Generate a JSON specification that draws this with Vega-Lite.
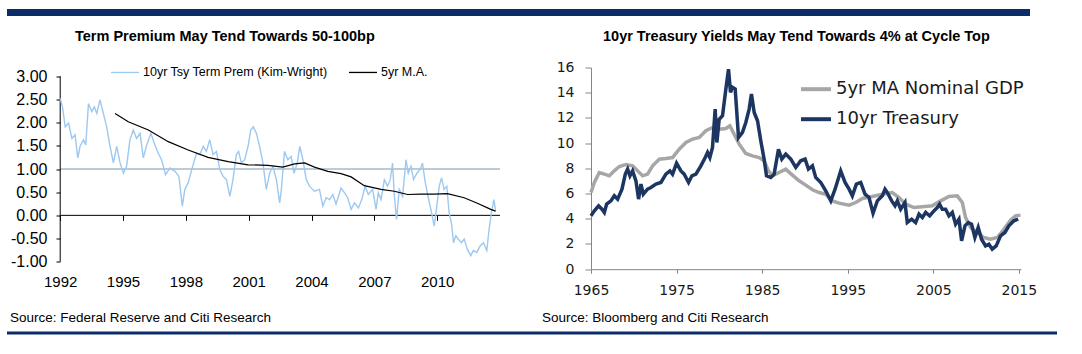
{
  "$schema": "https://vega.github.io/schema/vega-lite/v6.json",
  "padding": {"left": 7, "top": 9, "right": 0, "bottom": 0},
  "background": "white",
  "config": {
    "view": {"stroke": null},
    "font": "Liberation Sans",
    "axis": {"grid": false, "title": null, "labelOverlap": false, "labelFlush": false}
  },
  "datasets": {
    "tp": [
      {"year":1992.00,"value":2.52},{"year":1992.11,"value":2.34},{"year":1992.24,"value":1.91},{"year":1992.40,"value":1.99},{"year":1992.56,"value":1.66},{"year":1992.71,"value":1.74},{"year":1992.84,"value":1.24},{"year":1992.95,"value":1.49},{"year":1993.11,"value":1.63},{"year":1993.22,"value":1.52},{"year":1993.35,"value":2.41},{"year":1993.51,"value":2.24},{"year":1993.63,"value":2.34},{"year":1993.75,"value":2.20},{"year":1993.90,"value":2.49},{"year":1994.06,"value":2.20},{"year":1994.22,"value":1.91},{"year":1994.38,"value":1.49},{"year":1994.54,"value":1.13},{"year":1994.70,"value":1.49},{"year":1994.86,"value":1.13},{"year":1995.02,"value":0.91},{"year":1995.17,"value":1.06},{"year":1995.33,"value":1.63},{"year":1995.49,"value":1.84},{"year":1995.65,"value":1.66},{"year":1995.81,"value":1.77},{"year":1995.97,"value":1.24},{"year":1996.13,"value":1.52},{"year":1996.33,"value":1.77},{"year":1996.49,"value":1.56},{"year":1996.68,"value":1.34},{"year":1996.84,"value":1.20},{"year":1997.03,"value":0.88},{"year":1997.24,"value":1.02},{"year":1997.48,"value":0.95},{"year":1997.67,"value":0.84},{"year":1997.83,"value":0.20},{"year":1997.95,"value":0.56},{"year":1998.11,"value":0.70},{"year":1998.30,"value":1.02},{"year":1998.51,"value":1.34},{"year":1998.67,"value":1.31},{"year":1998.83,"value":1.49},{"year":1998.98,"value":1.38},{"year":1999.14,"value":1.63},{"year":1999.30,"value":1.31},{"year":1999.46,"value":1.38},{"year":1999.62,"value":0.99},{"year":1999.78,"value":0.84},{"year":1999.94,"value":0.77},{"year":2000.10,"value":0.41},{"year":2000.25,"value":0.77},{"year":2000.41,"value":1.31},{"year":2000.52,"value":1.38},{"year":2000.65,"value":1.13},{"year":2000.81,"value":1.20},{"year":2000.97,"value":1.49},{"year":2001.10,"value":1.84},{"year":2001.22,"value":1.91},{"year":2001.37,"value":1.77},{"year":2001.52,"value":1.49},{"year":2001.68,"value":1.13},{"year":2001.84,"value":0.56},{"year":2002.00,"value":0.91},{"year":2002.16,"value":1.06},{"year":2002.32,"value":0.77},{"year":2002.48,"value":0.27},{"year":2002.56,"value":0.56},{"year":2002.71,"value":1.38},{"year":2002.87,"value":1.20},{"year":2003.03,"value":1.27},{"year":2003.16,"value":0.91},{"year":2003.32,"value":1.13},{"year":2003.44,"value":1.49},{"year":2003.59,"value":1.20},{"year":2003.75,"value":0.77},{"year":2003.90,"value":0.63},{"year":2004.14,"value":0.52},{"year":2004.38,"value":0.56},{"year":2004.54,"value":0.20},{"year":2004.70,"value":0.38},{"year":2004.86,"value":0.34},{"year":2005.02,"value":0.45},{"year":2005.17,"value":0.24},{"year":2005.41,"value":0.59},{"year":2005.57,"value":0.49},{"year":2005.73,"value":0.38},{"year":2005.89,"value":0.13},{"year":2006.05,"value":0.27},{"year":2006.24,"value":0.16},{"year":2006.40,"value":0.34},{"year":2006.56,"value":0.63},{"year":2006.71,"value":0.45},{"year":2006.92,"value":0.56},{"year":2007.08,"value":0.13},{"year":2007.19,"value":0.49},{"year":2007.32,"value":0.34},{"year":2007.48,"value":0.77},{"year":2007.63,"value":0.63},{"year":2007.76,"value":0.77},{"year":2007.87,"value":1.13},{"year":2007.95,"value":0.45},{"year":2008.06,"value":-0.09},{"year":2008.19,"value":0.56},{"year":2008.35,"value":0.41},{"year":2008.51,"value":1.20},{"year":2008.62,"value":0.91},{"year":2008.75,"value":1.06},{"year":2008.87,"value":0.77},{"year":2009.03,"value":0.91},{"year":2009.19,"value":0.99},{"year":2009.30,"value":1.13},{"year":2009.41,"value":0.77},{"year":2009.54,"value":0.45},{"year":2009.70,"value":0.13},{"year":2009.86,"value":-0.23},{"year":2009.98,"value":0.20},{"year":2010.10,"value":0.63},{"year":2010.21,"value":0.81},{"year":2010.33,"value":0.56},{"year":2010.46,"value":0.63},{"year":2010.57,"value":0.06},{"year":2010.68,"value":-0.16},{"year":2010.78,"value":-0.59},{"year":2010.89,"value":-0.44},{"year":2011.00,"value":-0.51},{"year":2011.16,"value":-0.59},{"year":2011.29,"value":-0.51},{"year":2011.44,"value":-0.73},{"year":2011.60,"value":-0.87},{"year":2011.73,"value":-0.76},{"year":2011.89,"value":-0.80},{"year":2012.05,"value":-0.66},{"year":2012.21,"value":-0.59},{"year":2012.37,"value":-0.76},{"year":2012.48,"value":-0.30},{"year":2012.59,"value":0.06},{"year":2012.71,"value":0.34},{"year":2012.79,"value":0.09}
    ],
    "ma": [
      {"year":1994.62,"value":2.20},{"year":1995.25,"value":2.02},{"year":1996.21,"value":1.84},{"year":1997.16,"value":1.59},{"year":1998.11,"value":1.41},{"year":1999.06,"value":1.25},{"year":2000.02,"value":1.16},{"year":2000.97,"value":1.09},{"year":2001.92,"value":1.08},{"year":2002.63,"value":1.04},{"year":2003.19,"value":1.11},{"year":2003.67,"value":1.13},{"year":2004.14,"value":1.04},{"year":2004.78,"value":0.95},{"year":2005.41,"value":0.90},{"year":2005.89,"value":0.83},{"year":2006.52,"value":0.64},{"year":2007.32,"value":0.56},{"year":2007.95,"value":0.52},{"year":2008.59,"value":0.45},{"year":2009.22,"value":0.46},{"year":2009.86,"value":0.46},{"year":2010.49,"value":0.47},{"year":2011.29,"value":0.38},{"year":2011.92,"value":0.26},{"year":2012.56,"value":0.13},{"year":2012.79,"value":0.09}
    ],
    "gdp": [
      {"year":1965.00,"value":6.08},{"year":1965.39,"value":6.88},{"year":1965.97,"value":7.67},{"year":1966.56,"value":7.54},{"year":1967.14,"value":7.41},{"year":1967.72,"value":7.80},{"year":1968.31,"value":8.15},{"year":1969.09,"value":8.31},{"year":1969.86,"value":8.20},{"year":1970.45,"value":7.80},{"year":1971.03,"value":7.41},{"year":1971.61,"value":7.54},{"year":1972.20,"value":8.20},{"year":1972.98,"value":8.73},{"year":1973.75,"value":8.78},{"year":1974.53,"value":8.86},{"year":1975.31,"value":9.52},{"year":1976.09,"value":10.05},{"year":1976.87,"value":10.32},{"year":1977.65,"value":10.45},{"year":1978.42,"value":10.98},{"year":1979.20,"value":11.24},{"year":1979.98,"value":11.11},{"year":1980.76,"value":11.16},{"year":1981.23,"value":11.38},{"year":1981.73,"value":10.71},{"year":1982.32,"value":9.92},{"year":1983.09,"value":9.18},{"year":1983.87,"value":8.99},{"year":1984.65,"value":8.86},{"year":1985.23,"value":8.60},{"year":1985.74,"value":7.80},{"year":1986.21,"value":7.41},{"year":1986.98,"value":7.67},{"year":1987.76,"value":7.94},{"year":1988.54,"value":7.46},{"year":1989.32,"value":7.01},{"year":1990.10,"value":6.67},{"year":1990.88,"value":6.30},{"year":1991.65,"value":6.08},{"year":1992.43,"value":5.95},{"year":1993.21,"value":5.42},{"year":1993.99,"value":5.24},{"year":1995.16,"value":5.08},{"year":1995.93,"value":5.29},{"year":1996.71,"value":5.61},{"year":1997.88,"value":5.77},{"year":1999.05,"value":5.95},{"year":2000.21,"value":6.08},{"year":2000.99,"value":5.69},{"year":2001.77,"value":5.16},{"year":2002.74,"value":4.89},{"year":2003.72,"value":4.95},{"year":2004.88,"value":5.03},{"year":2005.86,"value":5.42},{"year":2006.83,"value":5.77},{"year":2007.80,"value":5.82},{"year":2008.39,"value":5.29},{"year":2008.77,"value":4.10},{"year":2009.36,"value":3.31},{"year":2010.14,"value":2.91},{"year":2010.91,"value":2.51},{"year":2011.69,"value":2.38},{"year":2012.47,"value":2.51},{"year":2013.25,"value":3.17},{"year":2014.03,"value":3.89},{"year":2014.61,"value":4.23},{"year":2015.19,"value":4.29}
    ],
    "ust": [
      {"year":1965.00,"value":4.23},{"year":1965.39,"value":4.63},{"year":1965.89,"value":5.03},{"year":1966.28,"value":4.76},{"year":1966.56,"value":4.50},{"year":1966.83,"value":5.16},{"year":1967.33,"value":5.42},{"year":1967.72,"value":5.82},{"year":1968.11,"value":5.56},{"year":1968.62,"value":6.35},{"year":1969.01,"value":7.54},{"year":1969.28,"value":7.94},{"year":1969.55,"value":7.41},{"year":1969.86,"value":7.80},{"year":1970.25,"value":7.01},{"year":1970.56,"value":5.56},{"year":1970.84,"value":6.75},{"year":1971.11,"value":5.95},{"year":1971.61,"value":6.35},{"year":1972.00,"value":6.48},{"year":1972.59,"value":6.75},{"year":1973.17,"value":6.88},{"year":1973.75,"value":7.54},{"year":1974.22,"value":7.80},{"year":1974.53,"value":7.54},{"year":1975.00,"value":8.41},{"year":1975.51,"value":7.80},{"year":1975.89,"value":7.54},{"year":1976.40,"value":6.88},{"year":1976.79,"value":7.41},{"year":1977.26,"value":7.54},{"year":1977.84,"value":8.20},{"year":1978.35,"value":8.86},{"year":1978.62,"value":9.26},{"year":1978.89,"value":8.86},{"year":1979.20,"value":9.66},{"year":1979.51,"value":12.70},{"year":1979.71,"value":10.05},{"year":1979.98,"value":11.90},{"year":1980.37,"value":12.17},{"year":1980.76,"value":14.29},{"year":1981.07,"value":15.87},{"year":1981.30,"value":14.02},{"year":1981.54,"value":14.42},{"year":1981.85,"value":14.29},{"year":1982.24,"value":10.45},{"year":1982.70,"value":10.85},{"year":1983.09,"value":11.64},{"year":1983.48,"value":12.70},{"year":1983.75,"value":13.89},{"year":1984.07,"value":12.43},{"year":1984.46,"value":11.77},{"year":1984.84,"value":10.19},{"year":1985.23,"value":8.73},{"year":1985.51,"value":7.41},{"year":1986.01,"value":7.28},{"year":1986.40,"value":7.54},{"year":1986.91,"value":9.52},{"year":1987.30,"value":8.73},{"year":1987.76,"value":9.13},{"year":1988.35,"value":8.73},{"year":1988.93,"value":8.07},{"year":1989.51,"value":8.60},{"year":1990.02,"value":8.73},{"year":1990.41,"value":7.94},{"year":1990.88,"value":8.20},{"year":1991.26,"value":7.28},{"year":1991.85,"value":6.88},{"year":1992.43,"value":6.22},{"year":1993.02,"value":5.42},{"year":1993.52,"value":6.35},{"year":1994.18,"value":7.80},{"year":1994.69,"value":6.88},{"year":1995.16,"value":6.35},{"year":1995.54,"value":5.82},{"year":1996.01,"value":6.75},{"year":1996.52,"value":6.88},{"year":1997.02,"value":5.95},{"year":1997.49,"value":5.69},{"year":1997.96,"value":4.44},{"year":1998.46,"value":5.42},{"year":1999.05,"value":5.82},{"year":1999.36,"value":6.35},{"year":1999.63,"value":6.08},{"year":2000.14,"value":5.42},{"year":2000.53,"value":5.03},{"year":2000.80,"value":5.42},{"year":2001.19,"value":4.76},{"year":2001.69,"value":5.29},{"year":2001.96,"value":3.70},{"year":2002.47,"value":3.97},{"year":2002.94,"value":3.70},{"year":2003.33,"value":4.37},{"year":2003.72,"value":4.10},{"year":2004.11,"value":4.50},{"year":2004.57,"value":4.23},{"year":2005.08,"value":4.63},{"year":2005.47,"value":4.89},{"year":2005.74,"value":5.16},{"year":2006.05,"value":4.76},{"year":2006.44,"value":4.76},{"year":2006.83,"value":4.23},{"year":2007.22,"value":4.50},{"year":2007.61,"value":3.57},{"year":2008.00,"value":3.97},{"year":2008.31,"value":2.25},{"year":2008.70,"value":3.44},{"year":2009.09,"value":3.70},{"year":2009.47,"value":3.57},{"year":2009.86,"value":2.51},{"year":2010.25,"value":3.31},{"year":2010.64,"value":2.38},{"year":2011.11,"value":1.85},{"year":2011.50,"value":1.98},{"year":2011.89,"value":1.59},{"year":2012.35,"value":1.85},{"year":2012.86,"value":2.65},{"year":2013.37,"value":2.91},{"year":2013.83,"value":3.44},{"year":2014.42,"value":3.84},{"year":2014.92,"value":3.97}
    ]
  },
  "columns": 1,
  "align": "none",
  "spacing": 12.5,
  "concat": [
    {
      "width": 1023, "height": 7,
      "view": {"fill": "#0b2b69", "stroke": null},
      "data": {"values": []},
      "mark": {"type": "point", "opacity": 0}
    },
    {
      "columns": 1,
      "align": "none",
      "spacing": 12,
      "concat": [
        {
          "spacing": 55,
          "resolve": {"scale": {"color": "independent"}, "legend": {"color": "independent"}},
          "hconcat": [
            {
              "width": 493, "height": 194.2,
              "title": {"text": "Term Premium May Tend Towards 50-100bp", "anchor": "start", "frame": "group", "dx": 68, "offset": 2, "baseline": "alphabetic", "font": "Liberation Sans", "fontSize": 14.5, "fontWeight": "bold", "color": "#000000"},
              "layer": [
                {
                  "data": {"values": [{}]},
                  "mark": {"type": "rule", "color": "#7d98ad", "strokeWidth": 1.2},
                  "encoding": {"x": {"datum": 1992, "type": "quantitative"}, "x2": {"datum": 2013}, "y": {"datum": 1, "type": "quantitative"}}
                },
                {
                  "data": {"values": [{}]},
                  "mark": {"type": "rule", "color": "#000000", "strokeWidth": 1},
                  "encoding": {"x": {"datum": 1992, "type": "quantitative"}, "x2": {"datum": 2013}, "y": {"datum": 0, "type": "quantitative"}}
                },
                {
                  "data": {"values": [{}]},
                  "mark": {"type": "rule", "color": "#000000", "strokeWidth": 1},
                  "encoding": {"x": {"datum": 1992, "type": "quantitative"}, "y": {"datum": -1, "type": "quantitative"}, "y2": {"datum": 3}}
                },
                {
                  "data": {"name": "tp"},
                  "mark": {"type": "line", "strokeWidth": 1.4},
                  "encoding": {
                    "x": {"field": "year", "type": "quantitative",
                      "scale": {"domain": [1989.46, 2013], "nice": false, "zero": false},
                      "axis": {"values": [1992, 1995, 1998, 2001, 2004, 2007, 2010], "format": "d", "offset": -46.3, "domain": false, "ticks": true, "tickSize": 5, "tickColor": "#000000", "labelPadding": 54, "labelFontSize": 15, "labelColor": "#000000", "labelFont": "Liberation Sans", "labelOverlap": false, "labelFlush": false}},
                    "y": {"field": "value", "type": "quantitative",
                      "scale": {"domain": [-1, 3.19], "nice": false, "zero": false},
                      "axis": {"values": [-1, -0.5, 0, 0.5, 1, 1.5, 2, 2.5, 3], "tickCount": 9, "labelExpr": "datum.value < 0 ? '-' + format(-datum.value, '.2f') : format(datum.value, '.2f')", "domain": false, "offset": -53, "tickColor": "#000000", "tickSize": 4, "labelPadding": 9, "labelFontSize": 16, "labelColor": "#000000", "labelFont": "Liberation Sans", "minExtent": 0, "labelOverlap": false}},
                    "color": {"datum": "10yr Tsy Term Prem (Kim-Wright)",
                      "scale": {"domain": ["10yr Tsy Term Prem (Kim-Wright)", "5yr M.A."], "range": ["#9dc8f0", "#000000"]},
                      "legend": {"orient": "none", "legendX": 103, "legendY": -10.3, "direction": "horizontal", "title": null, "symbolType": "stroke", "symbolSize": 784, "symbolStrokeWidth": 1.3, "labelFontSize": 12.5, "labelFont": "Liberation Sans", "labelColor": "#000000", "labelOffset": 3, "columnPadding": 18, "padding": 0, "labelLimit": 400}}
                  }
                },
                {
                  "data": {"name": "ma"},
                  "mark": {"type": "line", "strokeWidth": 1.2},
                  "encoding": {
                    "x": {"field": "year", "type": "quantitative"},
                    "y": {"field": "value", "type": "quantitative",
                      "axis": {"values": [-1, -0.5, 0, 0.5, 1, 1.5, 2, 2.5, 3], "tickCount": 9, "labelOverlap": false}},
                    "color": {"datum": "5yr M.A."}
                  }
                }
              ]
            },
            {
              "width": 430, "height": 201.7,
              "title": {"text": "10yr Treasury Yields May Tend Towards 4% at Cycle Top", "anchor": "start", "frame": "group", "dx": 12, "offset": 5, "baseline": "alphabetic", "font": "Liberation Sans", "fontSize": 14.5, "fontWeight": "bold", "color": "#000000"},
              "layer": [
                {
                  "data": {"name": "gdp"},
                  "mark": {"type": "line", "strokeWidth": 3.5},
                  "encoding": {
                    "x": {"field": "year", "type": "quantitative",
                      "scale": {"domain": [1965, 2015.25], "nice": false, "zero": false},
                      "axis": {"values": [1965, 1975, 1985, 1995, 2005, 2015], "format": "d", "domainColor": "#868686", "tickColor": "#868686", "tickSize": 4, "labelPadding": 10.5, "labelFontSize": 14, "labelFont": "DejaVu Sans", "labelColor": "#1a1a1a", "labelFlush": false}},
                    "y": {"field": "value", "type": "quantitative",
                      "scale": {"domain": [0, 16], "nice": false},
                      "axis": {"values": [0, 2, 4, 6, 8, 10, 12, 14, 16], "tickCount": 9, "format": "d", "domainColor": "#868686", "tickColor": "#868686", "tickSize": 6, "labelPadding": 11, "labelFontSize": 14, "labelFont": "DejaVu Sans", "labelColor": "#1a1a1a", "labelOverlap": false}},
                    "color": {"datum": "5yr MA Nominal GDP",
                      "scale": {"domain": ["5yr MA Nominal GDP", "10yr Treasury"], "range": ["#a6a6a6", "#1c3661"]},
                      "legend": {"orient": "none", "legendX": 208, "legendY": 4.7, "direction": "vertical", "title": null, "symbolType": "stroke", "symbolSize": 900, "symbolStrokeWidth": 4, "labelFontSize": 18, "labelFont": "DejaVu Sans", "labelColor": "#1a1a1a", "labelOffset": 3, "rowPadding": 4, "padding": 0, "labelLimit": 400}}
                  }
                },
                {
                  "data": {"name": "ust"},
                  "mark": {"type": "line", "strokeWidth": 3.5},
                  "encoding": {
                    "x": {"field": "year", "type": "quantitative"},
                    "y": {"field": "value", "type": "quantitative",
                      "axis": {"values": [0, 2, 4, 6, 8, 10, 12, 14, 16], "tickCount": 9, "labelOverlap": false}},
                    "color": {"datum": "10yr Treasury"}
                  }
                }
              ]
            }
          ]
        },
        {
          "spacing": 0,
          "hconcat": [
            {
              "width": 528, "height": 3,
              "view": {"fill": "#0b2b69", "stroke": null},
              "title": {"text": "Source: Federal Reserve and Citi Research", "anchor": "start", "frame": "group", "dx": 3, "offset": -4, "baseline": "alphabetic", "font": "Liberation Sans", "fontSize": 13.5, "fontWeight": "normal", "color": "#000000"},
              "data": {"values": []},
              "mark": {"type": "point", "opacity": 0}
            },
            {
              "width": 522, "height": 3,
              "view": {"fill": "#0b2b69", "stroke": null},
              "title": {"text": "Source: Bloomberg and Citi Research", "anchor": "start", "frame": "group", "dx": 7, "offset": -4, "baseline": "alphabetic", "font": "Liberation Sans", "fontSize": 13.5, "fontWeight": "normal", "color": "#000000"},
              "data": {"values": []},
              "mark": {"type": "point", "opacity": 0}
            }
          ]
        }
      ]
    }
  ]
}
